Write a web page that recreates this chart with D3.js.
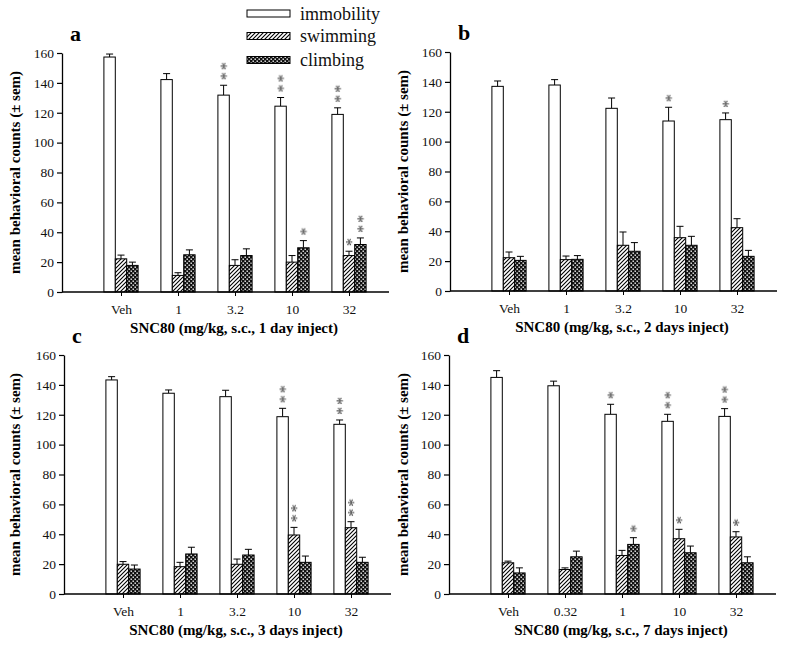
<!DOCTYPE html>
<html><head><meta charset="utf-8">
<script src="https://cdn.jsdelivr.net/npm/d3@7"></script>
<style>body{margin:0;background:#fff}svg{display:block}</style>
</head><body>
<svg id="chart" width="800" height="650"></svg>
<script>
// ---------- data ----------
const seriesNames = ["immobility", "swimming", "climbing"];
const yTicks = [0, 20, 40, 60, 80, 100, 120, 140, 160];

const catsA = ["Veh", "1", "3.2", "10", "32"];
const catsB = ["Veh", "1", "3.2", "10", "32"];
const catsC = ["Veh", "1", "3.2", "10", "32"];
const catsD = ["Veh", "0.32", "1", "10", "32"];

const titleA = "SNC80 (mg/kg, s.c., 1 day inject)";
const titleB = "SNC80 (mg/kg, s.c., 2 days inject)";
const titleC = "SNC80 (mg/kg, s.c., 3 days inject)";
const titleD = "SNC80 (mg/kg, s.c., 7 days inject)";

const immobilityA = [157.3, 142.2, 131.8, 124.4, 118.9];
const immobilitySemA = [2.0, 4.0, 6.6, 5.8, 4.4];
const swimmingA = [22.2, 11.1, 17.8, 20.0, 24.4];
const swimmingSemA = [2.5, 1.8, 3.8, 4.4, 2.9];
const climbingA = [17.8, 24.9, 24.4, 29.6, 31.8];
const climbingSemA = [2.2, 3.3, 4.5, 4.8, 4.4];
const starsA = [[0,0,0],[0,0,0],[2,0,0],[2,0,1],[2,1,2]];

const immobilityB = [137.0, 137.9, 122.3, 113.8, 114.7];
const immobilitySemB = [3.6, 3.6, 6.9, 9.2, 4.5];
const swimmingB = [22.3, 21.0, 30.6, 35.7, 42.4];
const swimmingSemB = [3.8, 2.4, 8.9, 7.6, 6.0];
const climbingB = [20.5, 21.2, 26.6, 30.6, 23.2];
const climbingSemB = [2.7, 2.5, 5.8, 6.0, 4.0];
const starsB = [[0,0,0],[0,0,0],[0,0,0],[1,0,0],[1,0,0]];

const immobilityC = [143.3, 134.4, 132.1, 118.7, 113.6];
const immobilitySemC = [2.2, 2.2, 4.3, 5.6, 2.9];
const swimmingC = [19.9, 18.3, 19.9, 39.5, 44.4];
const swimmingSemC = [1.8, 2.9, 3.5, 5.1, 4.0];
const climbingC = [16.7, 26.8, 26.1, 21.2, 21.2];
const climbingSemC = [2.7, 4.5, 3.8, 4.2, 3.4];
const starsC = [[0,0,0],[0,0,0],[0,0,0],[2,2,0],[2,2,0]];

const immobilityD = [145.0, 139.4, 120.3, 115.6, 118.9];
const immobilitySemD = [4.5, 3.1, 6.7, 4.7, 5.2];
const swimmingD = [20.9, 16.4, 25.8, 37.0, 38.2];
const swimmingSemD = [1.1, 1.1, 3.4, 6.3, 3.5];
const climbingD = [14.1, 24.9, 33.2, 27.6, 20.9];
const climbingSemD = [3.4, 3.8, 4.5, 4.5, 4.0];
const starsD = [[0,0,0],[0,0,0],[1,0,1],[2,1,0],[2,1,0]];

// ---------- layout ----------
const svg = d3.select("#chart");
const defs = svg.append("defs");

const gray = defs.append("filter").attr("id", "gray")
  .attr("x", "-50%").attr("y", "-50%").attr("width", "200%").attr("height", "200%");
gray.append("feColorMatrix").attr("type", "saturate").attr("values", 0);

const hatch = defs.append("pattern").attr("id", "hatch")
  .attr("patternUnits", "userSpaceOnUse").attr("width", 4).attr("height", 4);
hatch.append("rect").attr("width", 4).attr("height", 4).attr("fill", "#fff");
hatch.append("path").attr("d", "M-1,1 l2,-2 M0,4 l4,-4 M3,5 l2,-2")
  .attr("stroke", "#000").attr("stroke-width", 1.1);

const cross = defs.append("pattern").attr("id", "cross")
  .attr("patternUnits", "userSpaceOnUse").attr("width", 4).attr("height", 4);
cross.append("rect").attr("width", 4).attr("height", 4).attr("fill", "#111");
cross.append("rect").attr("x", 0.5).attr("y", 0.5).attr("width", 1.4).attr("height", 1.4).attr("fill", "#fff");
cross.append("rect").attr("x", 2.5).attr("y", 2.5).attr("width", 1.4).attr("height", 1.4).attr("fill", "#fff");

const fills = ["#fff", "url(#hatch)", "url(#cross)"];
const serif = "'Liberation Serif', 'Times New Roman', serif";

const panels = [
  {letter: "a", cats: catsA, title: titleA, left: 62, bottom: 292,
   means: [immobilityA, swimmingA, climbingA], sems: [immobilitySemA, swimmingSemA, climbingSemA], stars: starsA, labelX: 15},
  {letter: "b", cats: catsB, title: titleB, left: 450, bottom: 291,
   means: [immobilityB, swimmingB, climbingB], sems: [immobilitySemB, swimmingSemB, climbingSemB], stars: starsB, labelX: 403},
  {letter: "c", cats: catsC, title: titleC, left: 64, bottom: 594,
   means: [immobilityC, swimmingC, climbingC], sems: [immobilitySemC, swimmingSemC, climbingSemC], stars: starsC, labelX: 15},
  {letter: "d", cats: catsD, title: titleD, left: 449, bottom: 594,
   means: [immobilityD, swimmingD, climbingD], sems: [immobilitySemD, swimmingSemD, climbingSemD], stars: starsD, labelX: 403}
];

const plotH = 239, axisLen = 327, barW = 11.4;

panels.forEach(p => {
  const g = svg.append("g");
  const y = d3.scaleLinear().domain([0, 160]).range([p.bottom, p.bottom - plotH]);
  const x = d3.scalePoint().domain(p.cats).range([p.left + 59, p.left + 287]);

  // bars
  p.cats.forEach((c, i) => {
    const cx = x(c);
    seriesNames.forEach((s, k) => {
      const v = p.means[k][i], e = p.sems[k][i];
      const bx = cx + (k - 1.5) * barW;
      const mid = bx + barW / 2;
      // error bar
      g.append("line").attr("x1", mid).attr("x2", mid).attr("y1", y(v)).attr("y2", y(v + e))
        .attr("stroke", "#000").attr("stroke-width", 1);
      g.append("line").attr("x1", mid - 3.5).attr("x2", mid + 3.5).attr("y1", y(v + e)).attr("y2", y(v + e))
        .attr("stroke", "#000").attr("stroke-width", 1);
      g.append("rect").attr("x", bx).attr("y", y(v)).attr("width", barW).attr("height", y(0) - y(v))
        .attr("fill", fills[k]).attr("stroke", "#000").attr("stroke-width", 1);
      const n = p.stars[i][k];
      if (n > 0) {
        // significance marks, stacked vertically (text runs upward)
        g.append("text")
          .attr("transform", `translate(${mid},${y(v + e) - 5}) rotate(-90)`)
          .attr("x", 0).attr("dy", "0.5em")
          .attr("font-family", serif).attr("font-size", 16.5).attr("letter-spacing", 1.7)
          .attr("fill", "#3a3a3a").attr("filter", "url(#gray)").text("*".repeat(n));
      }
    });
  });

  // y axis
  const ya = g.append("g").attr("transform", `translate(${p.left},0)`)
    .call(d3.axisLeft(y).tickValues(yTicks).tickSize(5).tickSizeOuter(0).tickPadding(3));
  ya.select(".domain").attr("stroke-width", 1.3);
  ya.selectAll(".tick line").attr("stroke-width", 1.2);
  ya.selectAll("text").attr("font-family", serif).attr("font-size", 13.5).attr("fill", "#111");

  // x axis
  g.append("line").attr("x1", p.left).attr("x2", p.left + axisLen).attr("y1", p.bottom).attr("y2", p.bottom)
    .attr("stroke", "#000").attr("stroke-width", 1.3);
  const xa = g.append("g").attr("transform", `translate(0,${p.bottom})`)
    .call(d3.axisBottom(x).tickSize(4).tickPadding(8));
  xa.select(".domain").remove();
  xa.selectAll(".tick line").attr("stroke-width", 1);
  xa.selectAll("text").attr("font-family", serif).attr("font-size", 13.5).attr("fill", "#111");

  // x title
  g.append("text").attr("x", p.left + 172).attr("y", p.bottom + 41).attr("text-anchor", "middle")
    .attr("font-family", serif).attr("font-weight", "bold").attr("font-size", 15).text(p.title);

  // y title
  g.append("text").attr("transform", `translate(${p.labelX + 5},${p.bottom - plotH / 2}) rotate(-90)`)
    .attr("text-anchor", "middle").attr("font-family", serif).attr("font-weight", "bold")
    .attr("font-size", 15).text("mean behavioral counts (± sem)");

  // panel letter
  g.append("text").attr("x", p.left + 8).attr("y", p.bottom - plotH - 12)
    .attr("font-family", serif).attr("font-weight", "bold").attr("font-size", 22).text(p.letter);
});

// legend
const lg = svg.append("g");
const legY = [13.5, 36, 60];
seriesNames.forEach((s, k) => {
  lg.append("rect").attr("x", 247).attr("y", legY[k] - 3.5).attr("width", 43).attr("height", 7)
    .attr("fill", fills[k]).attr("stroke", "#000").attr("stroke-width", 1);
  lg.append("text").attr("x", 300).attr("y", legY[k] + 6).attr("font-family", serif)
    .attr("font-size", 18).attr("fill", "#111").text(s);
});
</script>
</body></html>
